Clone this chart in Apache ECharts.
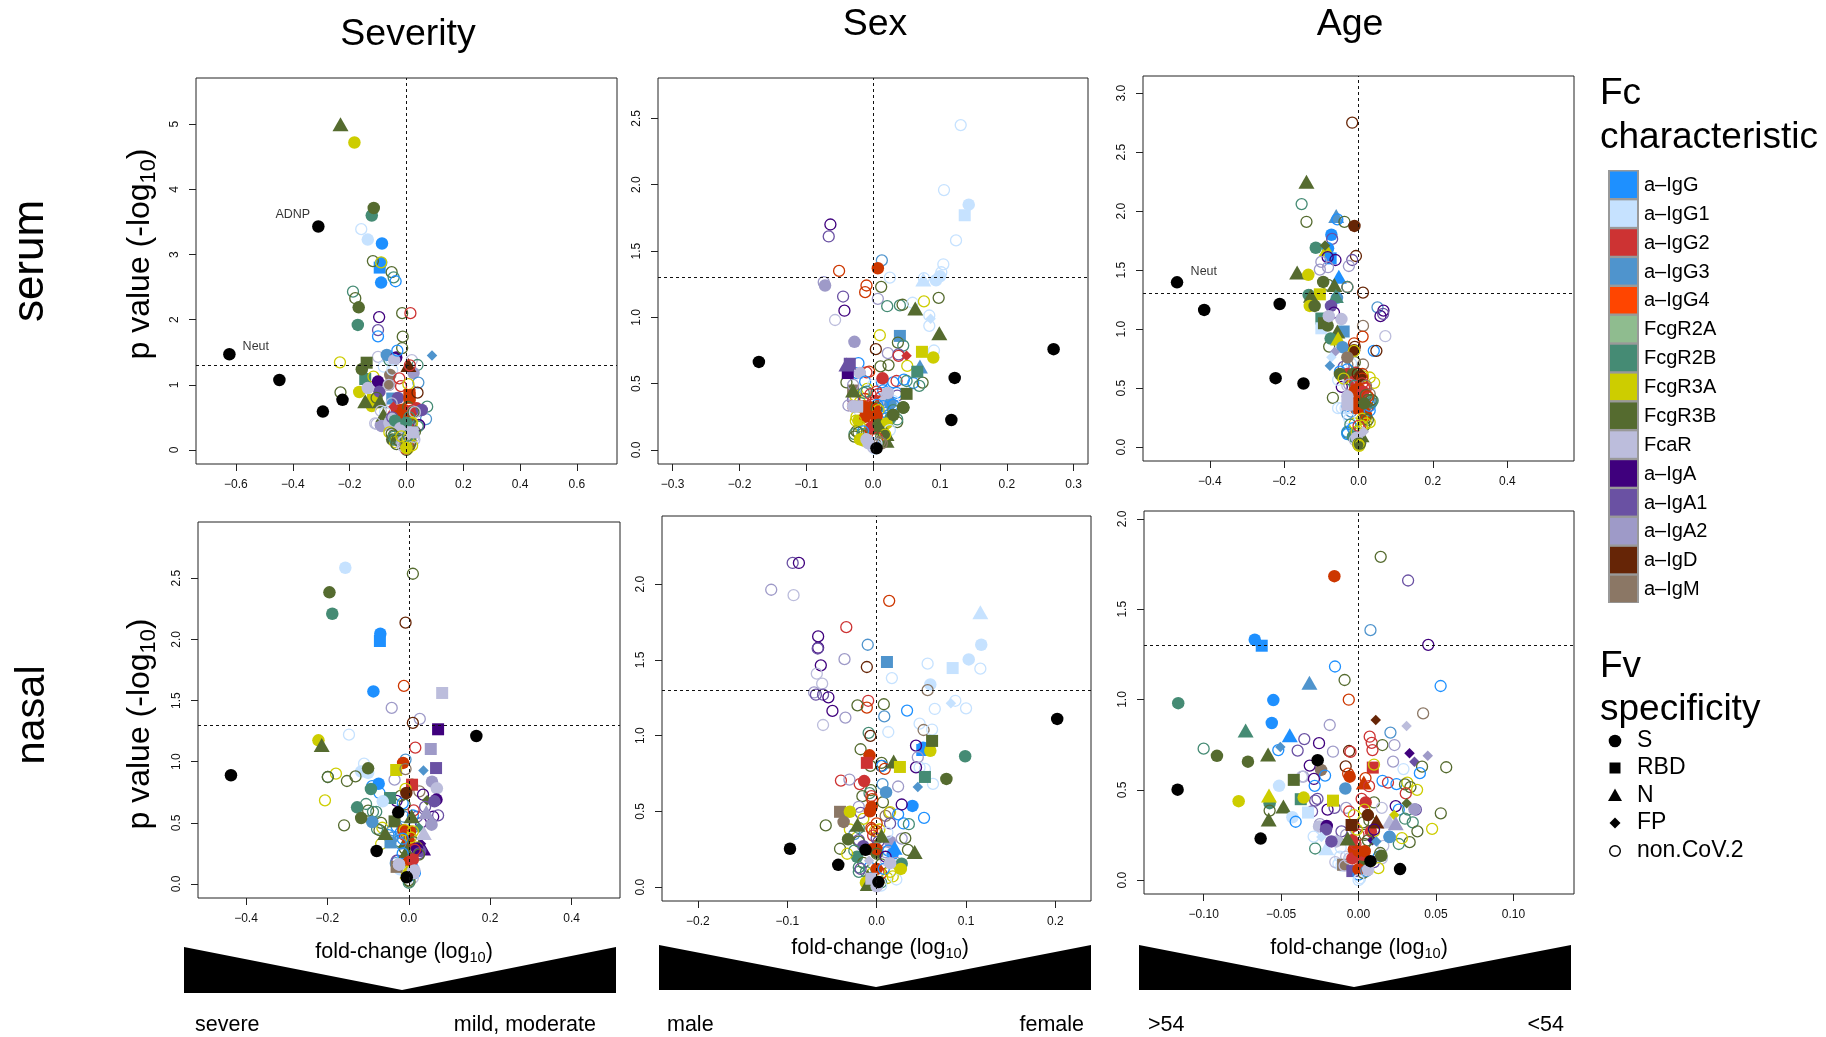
<!DOCTYPE html>
<html><head><meta charset="utf-8">
<style>html,body{margin:0;padding:0;background:#fff}#c{width:1826px;height:1037px}</style>
<script src="https://cdn.jsdelivr.net/npm/echarts@6/dist/echarts.min.js"></script>
</head><body><div id="c"></div>
<script>
// Fc characteristic categories
const fcNames=['a–IgG','a–IgG1','a–IgG2','a–IgG3','a–IgG4','FcgR2A','FcgR2B','FcgR3A','FcgR3B','FcaR','a–IgA','a–IgA1','a–IgA2','a–IgD','a–IgM'];
const fcLegendColors=['#1E90FF','#C6E2FF','#CD3333','#4F94CD','#FF4500','#8FBC8F','#458B74','#CDCD00','#556B2F','#BCBDDC','#3F007D','#6A51A3','#9E9AC8','#662506','#8B7765'];
const fcPlotColors=['#1E90FF','#C6E2FF','#CD3333','#4F94CD','#CD3700','#8FBC8F','#458B74','#CDCD00','#556B2F','#BCBDDC','#3F007D','#6A51A3','#9E9AC8','#662506','#8B7765','#000000'];
const fvNames=['S','RBD','N','FP','non.CoV.2'];
const G=0,G1=1,G2=2,G3=3,G4=4,R2A=5,R2B=6,R3A=7,R3B=8,AR=9,A=10,A1=11,A2=12,D=13,M=14,K=15;
const S=0,RBD=1,N=2,FP=3,O=4;

// [fold-change, p value, Fc, Fv] in drawing order
const serumSeverity=[
[-.10,1.43,AR,O],[-.08,1.28,G1,O],[-.06,1.38,R2B,O],[-.069,1.46,G3,S],[-.036,1.42,A,S],[-.043,1.38,AR,S],[.019,1.38,AR,O],[.039,1.305,R2B,O],
[-.14,1.34,R3B,RBD],[-.145,1.09,R2B,RBD],[-.157,1.24,R3B,S],[-.116,1.125,R3A,O],[-.166,.89,R3A,S],[-.122,.675,R3A,S],[-.118,.77,R3A,RBD],[-.10,1.05,A,S],[-.095,.895,A1,S],[-.136,.95,AR,S],[-.145,.75,R3B,N],[-.093,.75,R3B,N],[-.105,.80,R3B,O],
[-.057,1.15,M,S],[-.062,1.0,M,S],[-.062,1.0,AR,O],[.025,1.18,A2,S],[-.05,1.23,G1,O],[.007,1.305,D,N],[.012,1.3,G2,O],[-.025,1.10,G2,O],[.042,1.035,G3,O],[-.019,.98,G2,O],[.007,1.01,R3A,O],
[-.05,.79,G3,RBD],[-.03,.80,A1,S],[.011,.845,G4,RBD],[.011,.80,G4,RBD],[.039,.88,D,O],[-.052,.715,AR,O],[.073,.665,R2B,O],[.069,.475,G3,O],
[-.022,.61,G4,S],[-.045,.62,G2,N],[-.03,.52,G4,S],[.03,.62,G2,S],[.04,.60,A1,S],[.012,.55,G4,S],[-.09,.6,AR,O],[-.075,.58,G1,O],[-.078,.48,R3B,N],[-.08,.40,R3B,S],[-.09,.38,A2,S],[-.105,.40,AR,O],
[-.028,.486,G4,S],[-.046,.665,G2,FP],[-.01,.62,G4,S],[.006,.66,R3B,O],[.015,.6,G2,S],[-.012,.53,G4,S],[.005,.5,G4,S],[.036,.64,G2,S],[.054,.614,A1,S],[.042,.384,A1,O],[.025,.59,AR,O],[-.081,.537,R3B,N],[-.11,.41,AR,O],[-.087,.368,A2,S],[-.057,.384,AR,S],[-.052,.486,AR,S],
[-.06,.42,AR,S],[-.05,.5,A1,O],[-.04,.45,R2B,S],[.01,.50,R2B,O],[.025,.58,R3B,O],[.03,.58,AR,O],[.045,.38,A,O],[.04,.36,R2B,O],[.02,.42,R3A,O],[.015,.40,R3B,O],[.019,.41,R3A,O],[-.022,.333,AR,S],[.004,.35,G2,S],[.0,.42,R2B,S],
[-.022,.30,AR,S],[-.06,.27,R3A,O],[-.045,.22,R3B,O],[-.05,.16,R3B,S],[-.04,.12,R3A,O],[-.03,.17,R3B,O],[.022,.27,AR,RBD],[.03,.28,R3B,O],[.028,.16,AR,O],[.02,.24,R3A,O],[.01,.18,R2B,O],[-.012,.15,M,O],[-.01,.10,AR,O],[-.006,.08,R2B,O],[.005,.12,G1,O],[-.005,.05,AR,O],[.004,.03,R3B,S],[.005,.02,R3A,O],[.008,.05,G4,O],[.0,.0,R3B,O],[-.003,.02,G2,O],[.002,.07,M,O],[.012,.08,R3B,O],[-.018,.09,AR,O],
[-.045,.2,R2B,O],[-.052,.25,R3B,O],[-.04,.16,R2B,O],[-.035,.09,R3B,O],[-.025,.14,R3B,O],[-.014,.12,AR,O],[-.008,.14,AR,O],[-.012,.06,AR,O],[-.003,.1,M,O],[.0,.14,R3B,O],[.004,.17,R3A,O],[.015,.13,R3B,O],[.02,.07,R3A,O],[.026,.2,AR,O],[.006,.22,R2B,O],[-.018,.21,R3A,O],[.0,.03,R3A,S],
[-.232,5,R3B,N],[-.183,4.72,R3A,S],[-.122,3.6,R2B,S],[-.115,3.715,R3B,S],[-.31,3.43,K,S],[-.159,3.39,G1,O],[-.136,3.23,G1,S],[-.086,3.17,G,S],[-.094,2.80,G,RBD],[-.089,2.87,G,S],[-.118,2.90,R3B,O],[-.089,2.88,R3A,O],[-.052,2.73,R3B,O],[-.045,2.65,R2B,O],[-.038,2.59,G,O],[-.089,2.57,G,S],[-.188,2.43,R2B,O],[-.18,2.33,R3B,O],[-.168,2.19,R3B,S],[-.171,1.92,R2B,S],[-.015,2.10,R3B,O],[.014,2.10,G2,O],[-.096,2.04,A,O],[-.10,1.84,A1,O],[-.10,1.745,G,O],[-.013,1.74,R3B,O],[-.015,1.565,R3B,O],[-.032,1.525,G,O],[-.234,1.345,R3A,O],[.09,1.45,G3,FP],[-.232,.885,R3B,O],
[-.623,1.47,K,S],[-.447,1.075,K,S],[-.225,.77,K,S],[-.294,.59,K,S],
[.021,.27,AR,RBD]];

const serumSex=[
[-.03,.448,M,RBD],[-.04,.51,R3B,O],[-.022,.654,G,O],[.011,.63,R3B,O],[.023,.64,R3B,O],[-.006,.59,G4,O],[-.01,.585,G2,O],[-.024,.58,G,O],[-.02,.58,AR,S],[-.038,.58,A,RBD],[.013,.51,G,O],[-.012,.515,G,O],[.03,.51,G,O],[.035,.52,G2,O],[.046,.53,G,O],[.06,.505,G,O],[.074,.508,R3B,O],[.069,.483,R2B,O],[.05,.52,R2B,O],
[-.03,.49,A2,O],[-.027,.41,R3A,O],[-.009,.46,R3A,O],[.0,.49,G1,O],[.005,.44,G2,O],[.015,.45,G,O],[.02,.42,AR,S],[.035,.43,G,O],[.036,.41,A1,O],[.03,.37,G1,O],[.024,.355,A,O],[.018,.34,A2,O],[.0,.37,G2,O],[-.012,.385,G4,O],[-.02,.36,R3A,O],[-.03,.38,A1,O],
[-.014,.43,R2B,O],[-.01,.44,R2B,O],[-.004,.42,G2,O],[.007,.42,G2,O],[.012,.4,G2,O],[.004,.37,G2,O],[.012,.36,G4,O],[.018,.37,AR,S],[.026,.35,G3,S],[.03,.34,G,O],[.022,.31,G3,O],[.015,.33,G,O],[.006,.34,G,O],[-.008,.33,G2,O],[.0,.28,R3B,O],[.003,.29,R3A,O],[-.01,.29,G4,S],[.002,.31,G4,S],[.02,.28,G,O],[-.02,.29,G1,O],
[-.037,.335,A2,O],[-.03,.33,G4,O],[-.015,.33,G4,S],[-.005,.32,G4,S],[.005,.32,R3B,O],[.008,.30,R3A,O],[.03,.30,R2B,O],[.02,.24,G,O],[.03,.264,R3B,S],[.036,.21,R3B,O],[.045,.32,R2B,S],[.045,.32,R3B,S],[-.024,.327,AR,RBD],[-.03,.33,AR,S],
[.005,.24,G4,O],[-.025,.25,R3A,O],[.026,.24,R2B,S],[.036,.23,R2B,O],[-.022,.22,R3A,S],[-.012,.25,G4,S],[.005,.26,G4,S],[.0,.18,G4,S],[-.005,.16,G4,S],[-.002,.17,G2,S],[.008,.19,R3B,S],[.012,.17,R3B,S],[.015,.13,R3B,S],[.02,.2,R3A,S],[.025,.15,G1,O],[-.02,.18,R3A,O],[-.025,.14,R3B,O],[-.028,.12,R2B,O],[-.015,.14,G,O],[-.022,.13,R3B,O],[-.028,.1,R3B,O],[-.016,.12,R2B,O],[.01,.17,R3B,N],[.015,.13,R3B,N],[.02,.12,R3B,N],[.02,.07,R3B,N],[.018,.115,R3A,O],[.006,.09,G2,O],[.012,.1,R3B,O],[-.018,.08,R3A,S],[-.014,.07,R3A,S],[-.02,.08,R3A,O],[.0,.05,G,O],[.004,.03,AR,O],[.005,.05,G1,O],[-.01,.08,AR,S],[.002,.01,G1,O],[.0,.02,AR,O],[.01,.06,M,O],[.013,.05,M,O],
[.131,2.45,G1,O],[.106,1.96,G1,O],[.143,1.85,G1,S],[.137,1.77,G1,RBD],[.124,1.58,G1,O],[-.064,1.70,A,O],[-.0665,1.61,A1,O],[.013,1.43,G3,O],[.007,1.37,G4,S],[-.051,1.35,G4,O],[.105,1.40,G1,O],[.102,1.34,G1,O],[.10,1.31,G1,S],[.094,1.28,G1,S],[.075,1.285,G1,N],[.076,1.295,G1,O],[.025,1.30,G1,O],[-.074,1.265,A2,O],[-.072,1.24,A2,S],[-.01,1.24,G4,O],[-.012,1.19,G4,O],[.012,1.23,R3B,O],[-.045,1.157,A1,O],[-.043,1.05,A,O],[-.057,.98,AR,O],[.007,1.14,A2,O],[.021,1.084,R2B,O],[.04,1.09,R2B,O],[.044,1.095,R3B,O],[.059,1.11,G1,O],[.076,1.12,R3A,O],[.098,1.147,R3B,O],[.063,1.067,R3B,N],[.084,1.014,G1,O],[.086,.99,G1,FP],[.084,.936,G1,O],[.099,.88,R3B,N],[.01,.865,R3A,O],[.04,.86,G3,RBD],[.037,.81,R3B,O],[.045,.787,R2B,O],[.091,.75,G1,O],[.073,.74,R3A,RBD],[.09,.697,R3A,S],[-.028,.815,A2,S],[.004,.76,D,O],[.022,.73,A2,O],[.038,.72,A1,O],[.038,.71,G2,O],[.05,.71,G2,FP],[.051,.634,R3A,O],[-.04,.644,A1,N],[-.035,.65,A1,RBD],[.07,.63,G3,N],[.066,.59,R2B,RBD],[.014,.54,G2,S],[-.03,.448,R3B,N],[.05,.423,R3B,RBD],[.03,.264,R3B,S],[.045,.32,R3B,S],
[-.024,.327,AR,RBD],[.022,.43,AR,S],[-.007,.05,AR,S],[-.026,.22,R3A,O],
[.27,.76,K,S],[-.171,.664,K,S],[.122,.543,K,S],[.117,.226,K,S],[.005,.013,K,S]];

const serumAge=[
[-.079,.852,R3B,O],[-.03,.70,M,O],[-.02,.71,G1,O],[-.01,.72,R3B,O],[.012,.70,M,O],[-.04,.68,A1,O],[-.05,.64,G,O],[-.045,.60,R3A,O],[-.03,.62,G2,S],[-.022,.61,G2,O],[-.008,.63,G2,O],[.01,.62,G4,O],[.012,.60,R3A,O],[.03,.59,R3A,O],[.042,.545,R3A,O],[.02,.5,G2,O],[.03,.45,M,O],[-.045,.51,A,O],[-.055,.57,G1,O],[-.03,.52,AR,O],
[-.03,.66,G,O],[-.025,.6,G2,S],[-.015,.62,R3B,S],[-.02,.57,R3B,O],[-.01,.56,G2,S],[-.002,.62,D,O],[.005,.6,D,S],[.01,.58,G4,O],[-.05,.62,R3B,S],[-.04,.58,R3A,O],[-.025,.53,A2,O],[-.01,.52,R2B,O],[.01,.54,G2,O],[.015,.5,G2,O],[.02,.52,M,O],
[-.069,.418,R3B,O],[-.055,.33,G1,O],[-.03,.35,G,O],[-.01,.44,G4,S],[.0,.50,G4,S],[.01,.38,G4,S],[.02,.35,G4,S],[.03,.39,R3B,O],[.038,.395,R2B,O],[.033,.37,G3,O],[.025,.34,G4,O],[.02,.25,R3A,O],[.03,.21,R3A,O],[.015,.18,R3B,O],[-.02,.30,G3,O],[-.03,.13,G,O],[-.03,.12,R2B,O],[-.01,.2,R3A,O],[.005,.15,G2,O],[.012,.13,R3B,FP],
[-.01,.48,G4,S],[-.005,.44,G4,S],[.0,.38,G4,S],[.008,.34,G4,S],[.015,.3,G4,S],[.02,.27,G4,S],[-.008,.33,G4,S],[.005,.42,G4,O],[.012,.47,G2,S],[.02,.44,R3B,O],[.025,.4,R3B,O],[.03,.35,G,O],[.03,.31,G,O],[.035,.4,R3B,O],[.035,.38,R2B,O],[.025,.43,G4,O],[.015,.37,R3B,S],[.018,.24,R3B,O],[.01,.24,R3A,O],[.02,.2,R3A,O],[.025,.23,R3B,O],[-.035,.33,G1,O],[-.045,.33,G1,O],[-.03,.28,G3,O],[-.025,.24,G1,O],[-.022,.19,R2B,O],[-.015,.16,G,O],[-.03,.11,G,O],[-.015,.09,R2B,S],[-.01,.06,AR,O],[.006,.05,AR,S],[.008,.1,R3B,N],[.01,.13,AR,FP],[-.005,.13,R3A,O],[.0,.18,G2,O],[.01,.18,R3A,O],
[-.03,.36,AR,RBD],[-.03,.43,AR,S],[.014,.13,AR,FP],[-.005,.08,AR,S],[0,.02,R3B,S],[.0,.03,R3B,O],[.0,.02,R3A,O],[.002,.01,R3A,O],[.004,.03,R3B,O],
[-.017,2.75,D,O],[-.14,2.25,R3B,N],[-.153,2.06,R2B,O],[-.14,1.91,R3B,O],[-.06,1.96,G3,N],[-.057,1.93,G,O],[-.038,1.91,R3B,O],[-.011,1.875,D,S],[-.073,1.80,G,S],[-.071,1.765,A1,O],[-.115,1.69,R2B,S],[-.082,1.685,G,S],[-.086,1.675,R3A,N],[-.09,1.71,R3B,FP],[-.075,1.60,G,RBD],[-.083,1.61,A,O],[-.062,1.586,A,O],[-.007,1.62,D,O],[-.017,1.586,A1,O],[-.026,1.535,A2,O],[-.10,1.57,A2,O],[-.104,1.505,A2,O],[-.082,1.525,A2,O],[-.165,1.48,R3B,N],[-.135,1.46,R3A,S],[-.053,1.445,G,N],[-.095,1.40,R3B,S],[-.082,1.375,R3B,O],[-.065,1.375,R3B,N],[-.03,1.357,G2,O],[-.03,1.357,R2B,O],[.012,1.31,D,O],
[-.134,1.29,R2B,S],[-.104,1.295,R3A,RBD],[-.128,1.284,R3B,N],[-.131,1.197,R3A,S],[-.118,1.197,R3B,S],[-.058,1.265,G3,S],[-.061,1.28,R2B,N],[-.074,1.197,A1,S],[-.066,1.14,A,O],[.051,1.185,G3,O],[.067,1.157,A,O],[.059,1.11,A,O],[.066,1.13,A1,O],[-.1,1.09,R2B,RBD],[-.1,1.007,G1,RBD],[-.093,1.05,R3B,RBD],[-.083,1.03,R3B,S],[-.08,1.11,AR,S],[-.046,1.085,AR,S],[.012,1.027,M,O],[-.04,.98,G3,RBD],[-.057,.98,R3B,N],[.011,.937,G4,O],[.072,.94,AR,O],[-.075,.92,R2B,S],[-.055,.92,R3A,N],[-.043,.847,G3,S],[-.012,.88,G4,O],[-.01,.85,D,O],[-.012,.82,D,S],[-.012,.815,R3A,O],[-.064,.807,A2,FP],[-.073,.762,G1,FP],[.041,.816,G,O],[.048,.816,D,O],[-.077,.689,G3,FP],[-.03,.76,M,S],
[-.488,1.397,K,S],[-.415,1.163,K,S],[-.212,1.213,K,S],[-.223,.584,K,S],[-.148,.539,K,S]];

const nasalSeverity=[
[-.105,.654,R2B,O],[-.08,.59,R2B,O],[-.1,.60,R3B,O],[-.088,.59,R2B,O],[-.072,.744,G,O],[-.09,.80,G,O],[-.035,.853,A2,O],[.008,.812,R3B,O],[.026,.758,M,O],[.035,.73,A,O],[.045,.684,R3B,FP],[.06,.55,A,O],[.072,.561,A1,O],[.04,.63,A1,O],
[-.068,.50,R3B,O],[-.065,.46,R3A,O],[-.078,.45,R2B,O],[-.072,.44,R3B,O],[-.068,.327,R3A,O],[-.05,.40,G,O],[-.04,.38,G3,O],[-.025,.35,R2B,O],[-.045,.34,G3,RBD],[-.02,.72,R3B,O],[-.03,.68,A,O],[-.015,.66,G,O],[-.01,.65,R3B,O],[.02,.55,A1,O],[.03,.50,A,O],[.01,.46,G3,O],
[-.012,.55,G3,O],[.01,.56,G,O],[-.03,.47,G,O],[-.04,.44,G3,O],[-.02,.42,G,O],
[-.09,.507,G3,S],[-.035,.512,R3B,RBD],[.025,.46,R2B,FP],[-.013,.44,G4,S],[.003,.43,G4,S],[-.01,.44,R3A,O],[.01,.43,R3A,O],[.03,.33,A,FP],[.035,.29,A,N],[.02,.3,R3A,O],[.028,.27,A1,S],[.01,.25,G4,O],[-.01,.29,R3B,O],[.005,.24,R2B,O],[-.008,.346,R3B,N],[-.002,.22,G2,O],[-.03,.19,A1,O],[-.032,.17,G3,O],[-.028,.19,A1,O],[.005,.15,G2,S],[-.02,.13,G3,O],[.01,.13,G,O],[.015,.09,G,O],
[-.01,.4,G2,O],[.0,.35,G4,S],[.005,.38,R3A,O],[-.015,.37,G,O],[-.02,.33,G3,O],[.012,.34,R3B,O],[.02,.29,A,S],[.025,.25,A1,O],[.025,.24,R3B,O],[.015,.28,G2,O],[-.005,.27,R3B,N],[-.015,.25,G,O],[-.01,.2,R3B,O],[.0,.18,G4,S],[.01,.2,G2,S],[-.025,.16,AR,O],[-.022,.12,G1,S],[-.005,.1,R3A,O],[.005,.07,G,O],[-.003,.06,R3B,O],[.01,.05,AR,O],[.002,.02,R3B,O],
[-.03,.14,M,RBD],[-.024,.158,AR,S],[.0,.09,R3A,S],[-.01,.05,R3A,FP],[.0,.03,R3B,O],[.0,.01,R2B,O],[.01,.104,AR,S],[.014,.11,AR,S],
[-.156,2.586,G1,S],[.01,2.537,R3B,O],[-.195,2.385,R3B,S],[-.188,2.21,R2B,S],[-.008,2.137,D,O],[-.07,2.047,G,S],[-.071,1.987,G,RBD],[-.087,1.575,G,S],[-.012,1.62,G4,O],[.082,1.562,AR,RBD],[-.042,1.44,A2,O],[.027,1.35,A2,O],[.01,1.317,D,O],[.072,1.265,A,RBD],[-.147,1.221,G1,O],[-.222,1.175,R3A,S],[-.214,1.137,R3B,N],[.016,1.115,G2,O],[.054,1.104,A2,RBD],[-.008,1.017,G3,O],[-.014,.99,G4,S],[-.11,.984,G1,O],[-.117,.92,G1,S],[-.1,.908,G1,S],[-.1,.946,R3B,S],[-.031,.932,R3A,RBD],[-.008,.94,M,O],[.067,.948,A1,RBD],[.036,.929,G3,FP],[-.179,.902,R3A,O],[-.199,.875,R2B,O],[-.199,.875,R3B,O],[-.131,.88,R3B,O],[-.152,.842,R3B,O],[.057,.837,A2,S],[.069,.782,AR,S],[-.074,.82,G,S],[-.093,.777,R2B,S],[.008,.812,G2,RBD],[-.008,.777,R3A,O],[-.006,.744,D,S],[-.046,.703,R2B,RBD],[-.064,.676,G1,S],[-.206,.684,R3A,O],[-.127,.627,R2B,S],[.068,.69,A,S],[.063,.676,A1,S],[.012,.602,G2,O],[.007,.553,R3B,N],[.043,.586,A2,N],[-.117,.54,R3B,S],[-.159,.48,R3B,O],[.056,.485,A2,S],[-.058,.417,R3B,N],[.037,.417,AR,N],
[-.437,.889,K,S],[.166,1.21,K,S],[-.026,.586,K,S],[-.079,.27,K,S],[-.024,.16,AR,S],[.012,.09,AR,S],[-.005,.055,K,S]];

const nasalSex=[
[.048,.79,G1,O],[.054,.78,G1,O],[.044,.79,A,O],[.063,.681,G1,O],[.0055,.82,R3B,O],[-.007,.8,R3B,O],[.005,.80,D,O],[.006,.80,G,O],[.009,.78,G4,O],[.0065,.68,G3,O],[-.019,.68,G2,O],[-.0065,.64,R3B,O],[-.008,.62,R2B,O],[-.016,.6,R3B,O],[-.006,.60,G2,O],[.007,.56,R3B,O],[-.005,.58,G4,O],
[-.0075,.5,G1,O],[-.02,.53,A2,O],[-.018,.49,A1,O],[.01,.47,M,O],[.014,.49,M,O],[.015,.495,R3A,O],[.024,.48,G,O],[.03,.42,G,O],[-.03,.38,R3A,O],[-.02,.39,R2B,O],[-.006,.39,G4,O],[-.002,.37,R3A,O],[.0,.37,G4,O],[.003,.38,R3A,O],[-.004,.34,G2,O],[.028,.32,A2,O],[.032,.323,R3B,O],[.0,.32,A1,O],[.015,.30,A2,S],[-.02,.31,A1,O],
[-.005,.38,G4,O],[.0,.42,G4,O],[.015,.42,A1,O],[-.015,.45,R3A,O],[-.025,.35,G3,O],[.002,.3,A1,O],[.012,.36,G1,O],[-.02,.3,R3B,O],[-.015,.27,A1,S],[-.005,.25,G4,S],[.0,.23,R3B,S],[.01,.23,A2,O],[.018,.22,G,S],[-.022,.2,R2B,S],[-.015,.16,R3B,O],[-.008,.13,G,O],[-.02,.1,R2B,O],[.01,.18,AR,O],
[-.041,.253,R3B,O],[-.033,.22,R3A,O],[-.025,.24,R2B,O],[.0,.25,G4,S],[.013,.24,G,O],[.0,.22,R3B,O],[.02,.26,G,N],[.035,.245,R3B,O],[.022,.16,A2,O],[.01,.2,A,O],[.005,.15,R3B,O],[-.02,.13,R2B,O],[-.012,.1,R2B,O],[-.018,.12,A1,O],[-.005,.09,R3A,O],[.002,.1,G2,O],[.012,.06,R3A,O],[.018,.07,R3A,O],[.022,.05,G1,O],[.005,.03,R2B,O],[.0,.01,G,O],
[-.01,.07,R3B,N],[.0,.12,G4,S],[.005,.09,G4,O],[.008,.12,G,O],[.015,.1,R3A,O],[-.012,.03,R3A,S],[-.01,.02,R3B,N],[.005,.01,G1,O],
[-.094,2.14,A1,O],[-.087,2.14,A,O],[-.118,1.963,A2,O],[-.093,1.927,AR,O],[.014,1.89,G4,O],[.116,1.815,G1,N],[-.034,1.716,G2,O],[-.0655,1.655,A,O],[-.0655,1.58,A,O],[-.066,1.575,A1,O],[.117,1.60,G1,S],[-.01,1.60,G3,O],[-.036,1.505,A2,O],[.103,1.503,G1,S],[.0115,1.486,G3,RBD],[-.011,1.453,D,O],[-.0625,1.464,A,O],[.057,1.475,G1,O],[.085,1.446,G1,RBD],[.116,1.442,G1,O],[-.067,1.409,AR,O],[.017,1.38,G1,O],[-.061,1.343,AR,O],[.06,1.338,G1,S],[.057,1.30,M,O],[-.07,1.285,A2,O],[-.068,1.27,A1,O],[-.06,1.27,A1,O],[-.054,1.253,A,O],[-.0095,1.23,G2,O],[-.011,1.185,G4,O],[-.0215,1.2,R3B,O],[.008,1.207,R3B,O],[.083,1.213,G1,FP],[.088,1.23,G1,O],[.065,1.176,G1,O],[.1,1.18,G1,O],[.034,1.165,G,O],[-.0495,1.163,A,O],[-.035,1.119,A2,O],[.0085,1.127,G3,O],[-.06,1.07,AR,O],[.013,1.024,G1,O],[.048,1.079,G1,O],[.0525,1.037,M,O],[.062,1.04,G1,O],[-.009,1.018,R2B,O],[-.007,.998,D,O],[.051,.905,G,RBD],[.052,.92,G,S],[.06,.90,R3A,S],[.062,.965,R3B,RBD],[.044,.934,A,O],[.046,.857,A2,O],[-.018,.91,R3B,O],[-.008,.87,G4,S],[.099,.864,R2B,S],[-.011,.82,G2,RBD],[.019,.829,R3B,N],[.026,.793,R3A,RBD],[.054,.727,R2B,RBD],[.078,.714,R3B,S],[.046,.66,G3,FP],[.024,.664,A2,O],[-.04,.703,G2,O],[-.0305,.71,A2,O],[-.014,.70,G2,S],[.0105,.626,G3,S],[.04,.536,G,S],[.028,.545,A,O],[.053,.457,G,O],[.036,.415,R2B,O],[-.0055,.53,G4,S],[-.0075,.5,G4,S],[-.041,.497,M,RBD],[-.03,.497,R3A,S],[-.037,.43,M,S],[-.0215,.411,R3B,N],[-.057,.407,R3B,O],[.0055,.338,R3B,N],[-.032,.316,R3B,S],[.0425,.231,R3B,N],[.028,.154,R2B,S],[.027,.12,R3A,S],[.015,.158,AR,S],[-.0085,.174,AR,FP],[-.006,.055,AR,RBD],[0,.005,AR,S],
[.202,1.11,K,S],[-.097,.253,K,S],[-.0125,.246,K,S],[-.043,.147,K,S],[.002,.033,K,S]];

const nasalAge=[
[-.03,.38,A1,O],[-.02,.39,A,O],[-.028,.44,A1,O],[-.0265,.45,A1,O],[-.0155,.4,A1,O],[-.008,.4,A2,O],[-.025,.31,A2,O],[-.011,.27,A1,O],[-.008,.25,A2,O],[-.006,.38,G2,O],[-.003,.36,R3A,O],[.002,.45,G2,O],[.01,.43,R3B,O],[.015,.4,AR,O],[.024,.41,A,O],[.026,.39,G,O],[.032,.39,R2B,O],[.037,.39,A1,O],[.03,.34,R2B,O],[.035,.32,R2B,O],[.038,.27,R3B,O],[.033,.21,R3B,O],[.026,.2,R2B,O],[.028,.232,R3A,O],[.016,.19,AR,O],[.02,.24,G,O],[.004,.25,R3B,O],[.003,.32,R3B,O],[-.003,.30,G2,O],
[-.0115,.18,G1,O],[-.008,.13,AR,O],[-.013,.09,G1,O],[-.012,.13,G1,O],[-.015,.1,AR,O],[-.011,.08,G1,O],[-.01,.085,M,RBD],[-.009,.08,AR,O],[-.006,.12,AR,O],[-.004,.05,A1,RBD],[.002,.1,R3B,N],[.0,.03,G,O],[.001,.01,G1,O],[.003,.04,R3B,O],[.0,.06,G4,S],[.003,.14,G2,S],[-.003,.17,G4,S],[.004,.2,R3B,O],[.0,.25,G2,O],[-.004,.22,G2,S],[.008,.27,G2,S],[.01,.27,R3A,O],[.009,.22,A,FP],
[-.004,.12,G2,S],[.0,.16,G4,S],[.003,.1,G2,O],[.005,.05,G3,O],[.01,.1,A1,O],[.013,.13,G,O],[.015,.12,AR,O],[-.002,.2,G2,O],[.006,.22,R3B,O],[.004,.16,G4,S],[-.001,.28,R3A,O],[.007,.33,R3B,O],
[.0143,1.79,R3B,O],[-.0156,1.683,G4,S],[.032,1.659,A1,O],[.0077,1.384,G3,O],[-.067,1.331,G,S],[-.0625,1.298,G,RBD],[.045,1.303,A,O],[-.0152,1.183,G,O],[-.009,1.108,R3B,O],[-.0317,1.093,G3,N],[.053,1.075,G,O],[-.1164,.98,R2B,S],[-.055,.997,G,S],[-.0063,.999,G4,O],[.0417,.923,M,O],[-.056,.87,G,S],[-.0186,.859,A2,O],[.0111,.887,D,FP],[.031,.853,AR,FP],[-.0729,.828,R2B,N],[-.0444,.802,G,N],[.0206,.817,G3,O],[.0072,.794,G2,O],[-.035,.781,A1,O],[-.0255,.758,A,O],[.0085,.76,G2,O],[.0154,.748,R3B,O],[.0232,.748,A2,O],[-.0518,.72,G,O],[-.0505,.737,G3,FP],[-.1,.728,R2B,O],[-.0393,.717,A1,O],[-.0914,.688,R3B,S],[-.0714,.656,R3B,S],[-.0584,.695,R3B,N],[-.0165,.711,A2,O],[-.0061,.715,D,O],[-.0052,.71,G2,O],[.009,.72,G2,O],[.0329,.702,A,FP],[.0447,.688,A2,FP],[.0361,.656,A1,FP],[.0223,.656,A2,O],[-.0242,.61,M,S],[-.0315,.634,A,O],[.041,.628,R3B,O],[.0566,.625,R3B,O],[.0092,.623,G2,RBD],[.01,.64,R3A,O],[-.0083,.63,D,O],[.0396,.592,G,O],[.029,.615,G1,O],[-.0216,.579,G,O],[-.0357,.573,A2,O],[-.0365,.573,AR,O],[-.0288,.56,A,O],[-.0067,.59,G4,O],[-.0057,.573,G4,S],[.0045,.565,G4,O],[.0034,.54,G4,N],[.0068,.52,G2,O],[-.0418,.555,R3B,RBD],[-.0513,.522,G1,S],[-.0283,.522,G,O],[-.0085,.507,G3,S],[.0155,.55,G,O],[.019,.54,G2,O],[.0245,.532,G,O],[.0315,.54,R3A,O],[.03,.53,R3B,O],[.0335,.515,R3B,O],[.0378,.5,R3A,O],[.0305,.48,G2,O],
[.0046,.43,G2,S],[-.0774,.437,R3A,S],[-.0574,.426,R2B,S],[-.0578,.468,R3A,N],[-.0373,.448,R2B,RBD],[-.0354,.457,R3A,S],[-.0165,.44,R3A,RBD],[-.0485,.407,R3B,N],[-.0574,.385,R3B,O],[-.058,.335,R3B,N],[-.0326,.374,G1,RBD],[-.0427,.348,G1,S],[-.0406,.323,G,O],[-.0255,.297,AR,S],[-.0205,.3,A,S],[-.021,.28,A1,S],[.0531,.37,R3B,O],[.0475,.284,R3A,O],[.023,.361,R3A,FP],[.0361,.393,A2,S],[.02,.325,AR,N],[.024,.315,A2,N],[.0311,.425,R3B,FP],[.0038,.39,R3A,O],[.0201,.238,G3,S],[.0115,.214,G3,FP],[-.0045,.305,D,RBD],[.006,.36,D,S],[.0115,.325,D,N],[.0128,.066,R3A,O],[.0148,.135,R3B,S],[.0062,.057,AR,S],[-.0208,.177,G1,N],[-.024,.238,G1,FP],[-.0143,.214,AR,S],[-.0175,.214,A1,S],[-.028,.175,R2B,O],[-.029,.241,G1,O],[-.007,.23,R3B,N],[.01,.28,A,O],[.014,.15,R3B,O],
[-.1168,.501,K,S],[-.0632,.23,K,S],[-.0264,.664,K,S],[.0077,.105,K,S],[.0268,.061,K,S],[.0,.0,G1,O]];

// axis ticks
const serumSeverityXTicks=[-.6,-.4,-.2,0,.2,.4,.6], serumSeverityYTicks=[0,1,2,3,4,5];
const serumSexXTicks=[-.3,-.2,-.1,0,.1,.2,.3], serumSexYTicks=[0,.5,1,1.5,2,2.5];
const serumAgeXTicks=[-.4,-.2,0,.2,.4], serumAgeYTicks=[0,.5,1,1.5,2,2.5,3];
const nasalSeverityXTicks=[-.4,-.2,0,.2,.4], nasalSeverityYTicks=[0,.5,1,1.5,2,2.5];
const nasalSexXTicks=[-.2,-.1,0,.1,.2], nasalSexYTicks=[0,.5,1,1.5,2];
const nasalAgeXTicks=[-.1,-.05,0,.05,.1], nasalAgeYTicks=[0,.5,1,1.5,2];
const significanceLine=1.3;

const panelTable=[
 {d:serumSeverity,xt:serumSeverityXTicks,yt:serumSeverityYTicks,xd:1,yd:0,box:[196,78,421,386],xr:[-.7405,.741],yr:[-.215,5.71],notes:[[-.53,1.586,'Neut'],[-.40,3.62,'ADNP']]},
 {d:serumSex,xt:serumSexXTicks,yt:serumSexYTicks,xd:1,yd:1,box:[658,78,430,386],xr:[-.322,.3215],yr:[-.106,2.805],notes:[]},
 {d:serumAge,xt:serumAgeXTicks,yt:serumAgeYTicks,xd:1,yd:1,box:[1143,76,431,385],xr:[-.5795,.5793],yr:[-.118,3.146],notes:[[-.416,1.49,'Neut']]},
 {d:nasalSeverity,xt:nasalSeverityXTicks,yt:nasalSeverityYTicks,xd:1,yd:1,box:[198,522,422,376],xr:[-.518,.519],yr:[-.1145,2.96],notes:[]},
 {d:nasalSex,xt:nasalSexXTicks,yt:nasalSexYTicks,xd:1,yd:1,box:[662,516,429,385],xr:[-.2402,.2398],yr:[-.092,2.45],notes:[]},
 {d:nasalAge,xt:nasalAgeXTicks,yt:nasalAgeYTicks,xd:2,yd:1,box:[1144,511,430,383],xr:[-.1385,.1391],yr:[-.077,2.044],notes:[]}
];

const font='"Liberation Sans",Arimo,Helvetica,Arial,sans-serif', ink='#111';
const fmt=(v,d)=>Math.abs(v)<1e-9?(0).toFixed(d):v.toFixed(d).replace('-','\u2212');
const shapes=['circle','rect','triangle','diamond','circle'];
const sizes=[12.5,12,[16,14],10.5,11];

const grid=[],xAxis=[],yAxis=[],series=[];
panelTable.forEach((p,i)=>{
 grid.push({left:p.box[0],top:p.box[1],width:p.box[2],height:p.box[3],show:true,borderColor:'#222',borderWidth:1,backgroundColor:'#fff'});
 const ax=(vals,dec,extent)=>({type:'value',gridIndex:i,min:extent[0],max:extent[1],splitLine:{show:false},axisLine:{show:false,onZero:false},
   axisTick:{show:true,inside:false,length:7,lineStyle:{color:'#222',width:1},customValues:vals},
   axisLabel:{show:true,customValues:vals,margin:15,fontFamily:font,fontSize:12,color:ink,hideOverlap:false,formatter:v=>fmt(v,dec)}});
 xAxis.push(ax(p.xt,p.xd,p.xr));
 const y=ax(p.yt,p.yd,p.yr); y.axisLabel.rotate=90; yAxis.push(y);
 series.push({type:'scatter',xAxisIndex:i,yAxisIndex:i,z:1,silent:true,symbolSize:1,itemStyle:{color:'transparent'},
   data:p.notes.map(n=>({value:[n[0],n[1]],name:n[2]})),
   label:{show:true,position:'inside',formatter:q=>q.name,fontFamily:font,fontSize:12.5,color:'#000'},
   markLine:{silent:true,symbol:'none',label:{show:false},animation:false,lineStyle:{color:'#111',type:[3,3],width:1},data:[{yAxis:significanceLine},{xAxis:0}]}});
 series.push({type:'scatter',xAxisIndex:i,yAxisIndex:i,z:2,silent:true,progressive:0,
   data:p.d.map(([x,v,fc,fv])=>{
     const c=fcPlotColors[fc];
     return {value:[x,v],symbol:shapes[fv],symbolSize:sizes[fv],
       itemStyle:fv===O?{color:'transparent',borderColor:c,borderWidth:1.3,opacity:1}:{color:c,borderWidth:0,opacity:1}};
   })});
});

// static page furniture
const txt=(t,x,y,size,align,extra)=>Object.assign({type:'text',x:x,y:y,silent:true,z:10,style:{text:t,fontFamily:font,fontSize:size,fill:'#000',textAlign:align||'left',textVerticalAlign:'middle'}},extra||{});
const subLabel=(a,sub,b,x,y,size,rot)=>({type:'text',x:x,y:y,rotation:rot,silent:true,z:10,style:{text:'{a|'+a+'}{b|'+sub+'}{a|'+b+'}',textAlign:'center',textVerticalAlign:'middle',
  rich:{a:{fontFamily:font,fontSize:size,fill:'#000',lineHeight:size*1.25,verticalAlign:'middle'},b:{fontFamily:font,fontSize:size*.68,fill:'#000',lineHeight:size*.7,verticalAlign:'bottom'}}}});
const wedge=(x0,x1,xm,top,bot)=>({type:'polygon',silent:true,z:9,shape:{points:[[x0,top],[xm,bot],[x1,top],[x1,bot+3],[x0,bot+3]]},style:{fill:'#000'}});

const graphic=[
 txt('Severity',408,34.5,37.5,'center'),txt('Sex',875,25,37.5,'center'),txt('Age',1350,25,37.5,'center'),
 txt('serum',31,261,44,'center',{rotation:Math.PI/2}),txt('nasal',33,715,41.5,'center',{rotation:Math.PI/2}),
 subLabel('p value (-log','10',')',140,254,32,Math.PI/2),subLabel('p value (-log','10',')',140,724,32,Math.PI/2),
 wedge(184,616,402,947,990),wedge(659,1091,876,945,987),wedge(1139,1571,1354,945,987),
 subLabel('fold-change (log','10',')',404,952,21.5,0),subLabel('fold-change (log','10',')',880,948,21.5,0),subLabel('fold-change (log','10',')',1359,948,21.5,0),
 txt('severe',195,1025,21.5),txt('mild, moderate',596,1025,21.5,'right'),txt('male',667,1025,21.5),txt('female',1084,1025,21.5,'right'),txt('>54',1148,1025,21.5),txt('<54',1564,1025,21.5,'right'),
 txt('Fc',1600,94,37),txt('characteristic',1600,138,37),txt('Fv',1600,667,37),txt('specificity',1600,710,37),
 {type:'rect',silent:true,z:9,shape:{x:1608,y:170,width:31,height:433},style:{fill:'#999'}}
];
fcNames.forEach((n,i)=>{
 const y=171.5+i*28.87;
 graphic.push({type:'rect',silent:true,z:10,shape:{x:1610,y:y,width:27,height:26.5},style:{fill:fcLegendColors[i]}});
 graphic.push(txt(n,1644,y+14,20));
});
const fvY=[741,768,795.5,823,851];
fvNames.forEach((n,i)=>{
 const yy=fvY[i];
 if(i===1)graphic.push({type:'rect',silent:true,z:10,shape:{x:1609.5,y:yy-5.5,width:11,height:11},style:{fill:'#000'}});
 else if(i===2)graphic.push({type:'polygon',silent:true,z:10,shape:{points:[[1615,yy-7],[1622,yy+5.5],[1608,yy+5.5]]},style:{fill:'#000'}});
 else if(i===3)graphic.push({type:'polygon',silent:true,z:10,shape:{points:[[1615,yy-5.5],[1620.5,yy],[1615,yy+5.5],[1609.5,yy]]},style:{fill:'#000'}});
 else if(i===0)graphic.push({type:'circle',silent:true,z:10,shape:{cx:1615,cy:yy,r:6.3},style:{fill:'#000'}});
 else graphic.push({type:'circle',silent:true,z:10,shape:{cx:1615,cy:yy,r:5.3},style:{fill:'none',stroke:'#000',lineWidth:1.4}});
 graphic.push(txt(n,1637,yy,23));
});

const chart=echarts.init(document.getElementById('c'),null,{renderer:'canvas'});
chart.setOption({animation:false,backgroundColor:'#fff',grid,xAxis,yAxis,series,graphic,tooltip:{show:false},legend:{show:false}});
</script></body></html>
